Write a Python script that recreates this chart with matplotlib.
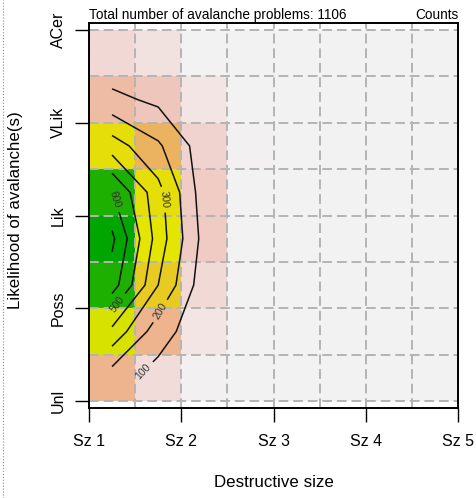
import numpy as np
import matplotlib
matplotlib.use("Agg")
import matplotlib.pyplot as plt
from matplotlib.colors import ListedColormap, hsv_to_rgb
from matplotlib.lines import Line2D

plt.rcParams["font.family"] = ["Liberation Sans", "DejaVu Sans"]

size_labels = ["Sz 1", "Sz 2", "Sz 3", "Sz 4", "Sz 5"]
likelihood_labels = ["Unl", "Poss", "Lik", "VLik", "ACer"]

# problem counts per half-class cell, rows from Unl (bottom) up to ACer
counts = np.array([
    [33, 8, 1, 0, 0, 0, 0, 0],
    [86, 33, 5, 0, 0, 0, 0, 0],
    [150, 70, 9, 0, 0, 0, 0, 0],
    [164, 82, 16, 0, 0, 0, 0, 0],
    [150, 79, 15, 0, 0, 0, 0, 0],
    [79, 49, 12, 1, 0, 0, 0, 0],
    [25, 18, 5, 0, 0, 0, 0, 0],
    [10, 6, 0, 0, 0, 0, 0, 0],
])

# smoothed surface used for the contour lines (cell centres)
density = np.array([
    [145, 62, 10, 0, 0, 0, 0, 0],
    [372, 145, 30, 0, 0, 0, 0, 0],
    [650, 300, 40, 0, 0, 0, 0, 0],
    [720, 355, 65, 0, 0, 0, 0, 0],
    [605, 335, 45, 0, 0, 0, 0, 0],
    [350, 215, 46, 0, 0, 0, 0, 0],
    [127, 78, 20, 0, 0, 0, 0, 0],
    [10, 5, 0, 0, 0, 0, 0, 0],
])
labelled_levels = [100, 200, 300, 500, 600]
plain_levels = [400, 700]


def terrain_colors_rev(n=256):
    # same hsv ramp as R's terrain.colors, low values pale
    cols = []
    for t in np.linspace(0, 1, n):
        if t <= 0.5:
            u = t / 0.5
            h, s, v = 4 / 12 - u * 2 / 12, 1.0, 0.65 + 0.25 * u
        else:
            u = (t - 0.5) / 0.5
            h, s, v = 2 / 12 * (1 - u), 1 - u, 0.9 + 0.05 * u
        cols.append(hsv_to_rgb((h, s, v)))
    return ListedColormap(cols[::-1])


fig = plt.figure(figsize=(4.77, 4.98), dpi=100)
ax = fig.add_axes([89 / 477, 90 / 498, 369 / 477, 385 / 498])

edges = np.arange(1, 5.01, 0.5)
centres = edges[:-1] + 0.25
ax.pcolormesh(edges, edges, counts, cmap=terrain_colors_rev(),
              vmin=0, vmax=counts.max(), zorder=1)

for g in edges:
    ax.axvline(g, color="#b4b4b4", lw=1.4, ls=(0, (5, 2.5)), zorder=2)
    ax.axhline(g, color="#b4b4b4", lw=1.4, ls=(0, (5, 2.5)), zorder=2)

ax.contour(centres, centres, density, levels=plain_levels,
           colors="#111111", linewidths=1.1, zorder=3)
cs = ax.contour(centres, centres, density, levels=labelled_levels,
                colors="#111111", linewidths=1.1, zorder=3)
label_pos = [(1.60, 1.31), (1.79, 1.96), (1.77, 3.17), (1.34, 2.02), (1.28, 3.17)]
ax.clabel(cs, manual=label_pos, inline=True, fmt="%d", fontsize=7.5,
          colors="#333333")

ax.set_xlim(1, 5)
ax.set_ylim(0.925, 5.075)
ax.set_xticks(range(1, 6))
ax.set_xticklabels(size_labels, fontsize=11.5)
ax.set_yticks(range(1, 6))
ax.set_yticklabels(likelihood_labels, fontsize=11.5, rotation=90, va="center")
ax.tick_params(axis="x", length=10, width=1, pad=8.5)
ax.tick_params(axis="y", length=10, width=1, pad=6.5)
for sp in ax.spines.values():
    sp.set_linewidth(1.4)

ax.text(0, 1.0104, "Total number of avalanche problems: %d" % counts.sum(),
        transform=ax.transAxes, ha="left", va="baseline", fontsize=9.8)
ax.text(1, 1.0104, "Counts", transform=ax.transAxes, ha="right",
        va="baseline", fontsize=9.8)

fig.text(273.5 / 477, 1 - 482 / 498, "Destructive size", ha="center",
         va="center", fontsize=12.2)
fig.text(16 / 477, 1 - 210 / 498, "Likelihood of avalanche(s)", ha="center",
         va="center", rotation=90, fontsize=12.2)

fig.add_artist(Line2D([0.006, 0.006], [0, 1], transform=fig.transFigure,
                      ls=":", color="#8c8c8c", lw=0.8))

fig.savefig("out.png", dpi=100)
